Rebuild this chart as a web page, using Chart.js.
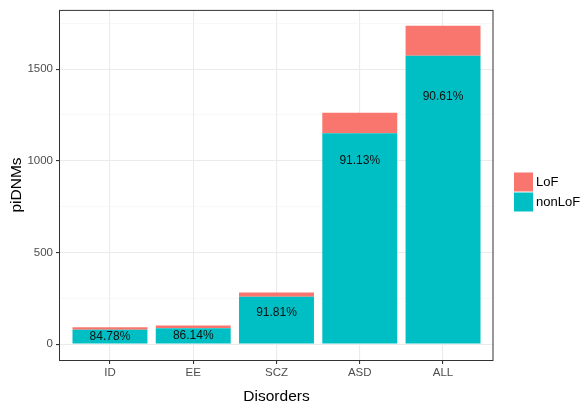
<!DOCTYPE html>
<html>
<head>
<meta charset="utf-8">
<script src="https://cdn.jsdelivr.net/npm/chart.js@4.4.0/dist/chart.umd.min.js"></script>
<style>
  body { margin: 0; background: #fff; }
  #wrap { width: 582px; height: 405px; }
</style>
</head>
<body>
<div id="wrap"><canvas id="chart" width="582" height="405"></canvas></div>
<script>
// data
var disorders = ["ID", "EE", "SCZ", "ASD", "ALL"];
var nonLoF = [78, 87, 258, 1150, 1573];
var LoF = [14, 14, 23, 112, 163];
var pctText = ["84.78%", "86.14%", "91.81%", "91.13%", "90.61%"];
var pctAt = [40, 45, 172, 1000, 1348];   // where the % label sits (y value)
var yTicks = [0, 500, 1000, 1500];
var yMinor = [250, 750, 1250, 1750];

var total = nonLoF.map(function (v, i) { return v + LoF[i]; });
var ymax = Math.max.apply(null, total);
// ggplot style 5% expansion
var ylo = -ymax * 0.05, yhi = ymax * 1.05;

var $$ = function (id) { return document.getElementById(id); };

function pts(arr) {
  return arr.map(function (v, i) { return { x: i + 1, y: v }; });
}

var tickFont = { family: "Liberation Sans, Arial, sans-serif", size: 11.5 };

// frame + % labels + legend
var extras = {
  id: 'extras',
  afterDatasetsDraw: function (chart) {
    var ctx = chart.ctx;
    var ys = chart.scales.y;
    var meta = chart.getDatasetMeta(0);
    ctx.save();
    ctx.fillStyle = '#111';
    ctx.font = '12px Liberation Sans, Arial, sans-serif';
    ctx.textAlign = 'center';
    ctx.textBaseline = 'middle';
    meta.data.forEach(function (bar, i) {
      ctx.fillText(pctText[i], bar.x, ys.getPixelForValue(pctAt[i]));
    });
    ctx.restore();
  },
  afterDraw: function (chart) {
    var ctx = chart.ctx, a = chart.chartArea;
    ctx.save();
    ctx.strokeStyle = '#333333';
    ctx.lineWidth = 1;
    ctx.strokeRect(a.left - 0.5, a.top + 0.5, a.right - a.left + 0.5, a.bottom - a.top);
    // legend, LoF on top like ggplot
    var ds = chart.data.datasets.slice().reverse();
    var lx = 514, ly = 172.5;
    ctx.font = '13px Liberation Sans, Arial, sans-serif';
    ctx.textBaseline = 'middle';
    ctx.textAlign = 'left';
    ds.forEach(function (d, k) {
      var y = ly + k * 20;
      ctx.fillStyle = d.backgroundColor;
      ctx.fillRect(lx, y, 19, 19);
      ctx.fillStyle = '#000';
      ctx.fillText(d.label, lx + 22, y + 10);
    });
    ctx.restore();
  }
};

new Chart($$('chart'), {
  type: 'bar',
  data: {
    datasets: [{
      label: 'nonLoF',
      data: pts(nonLoF),
      backgroundColor: '#00BFC4',
      barPercentage: 0.9,
      categoryPercentage: 1
    }, {
      label: 'LoF',
      data: pts(LoF),
      backgroundColor: '#F8766D',
      barPercentage: 0.9,
      categoryPercentage: 1
    }]
  },
  options: {
    responsive: false,
    animation: false,
    layout: { padding: { top: 9, right: 89, left: 0, bottom: 0 } },
    plugins: {
      legend: { display: false },
      tooltip: { enabled: false }
    },
    scales: {
      x: {
        type: 'linear',
        stacked: true,
        offset: false,
        min: 0.4,
        max: disorders.length + 0.6,
        afterBuildTicks: function (s) {
          s.ticks = disorders.map(function (d, i) { return { value: i + 1 }; });
        },
        afterFit: function (s) { s.height = 45; },
        ticks: {
          color: '#4d4d4d',
          font: tickFont,
          padding: 2,
          maxRotation: 0,
          autoSkip: false,
          callback: function (v) { return disorders[v - 1]; }
        },
        grid: {
          offset: false,
          color: '#ebebeb',
          lineWidth: 1.1,
          tickLength: 4,
          tickColor: '#333333'
        },
        border: { display: false },
        title: {
          display: true,
          text: 'Disorders',
          color: '#000',
          font: { family: "Liberation Sans, Arial, sans-serif", size: 15.5, lineHeight: 1 },
          padding: { top: 0, bottom: 1 }
        }
      },
      y: {
        stacked: true,
        min: ylo,
        max: yhi,
        afterBuildTicks: function (s) {
          s.ticks = yTicks.concat(yMinor).sort(function (a, b) { return a - b; })
            .map(function (v) { return { value: v }; });
        },
        afterFit: function (s) { s.width = 60; },
        ticks: {
          color: '#4d4d4d',
          font: tickFont,
          padding: 3,
          callback: function (v) { return yTicks.indexOf(v) >= 0 ? String(v) : ''; }
        },
        grid: {
          color: function (c) { return yTicks.indexOf(c.tick.value) >= 0 ? '#ebebeb' : '#f3f3f3'; },
          lineWidth: function (c) { return yTicks.indexOf(c.tick.value) >= 0 ? 1.1 : 0.6; },
          tickLength: 4,
          tickColor: function (c) { return yTicks.indexOf(c.tick.value) >= 0 ? '#333333' : 'rgba(0,0,0,0)'; }
        },
        border: { display: false },
        title: {
          display: true,
          text: 'piDNMs',
          color: '#000',
          font: { family: "Liberation Sans, Arial, sans-serif", size: 15.5, lineHeight: 1 },
          padding: { top: 9, bottom: 0 }
        }
      }
    }
  },
  plugins: [extras]
});
</script>
</body>
</html>
